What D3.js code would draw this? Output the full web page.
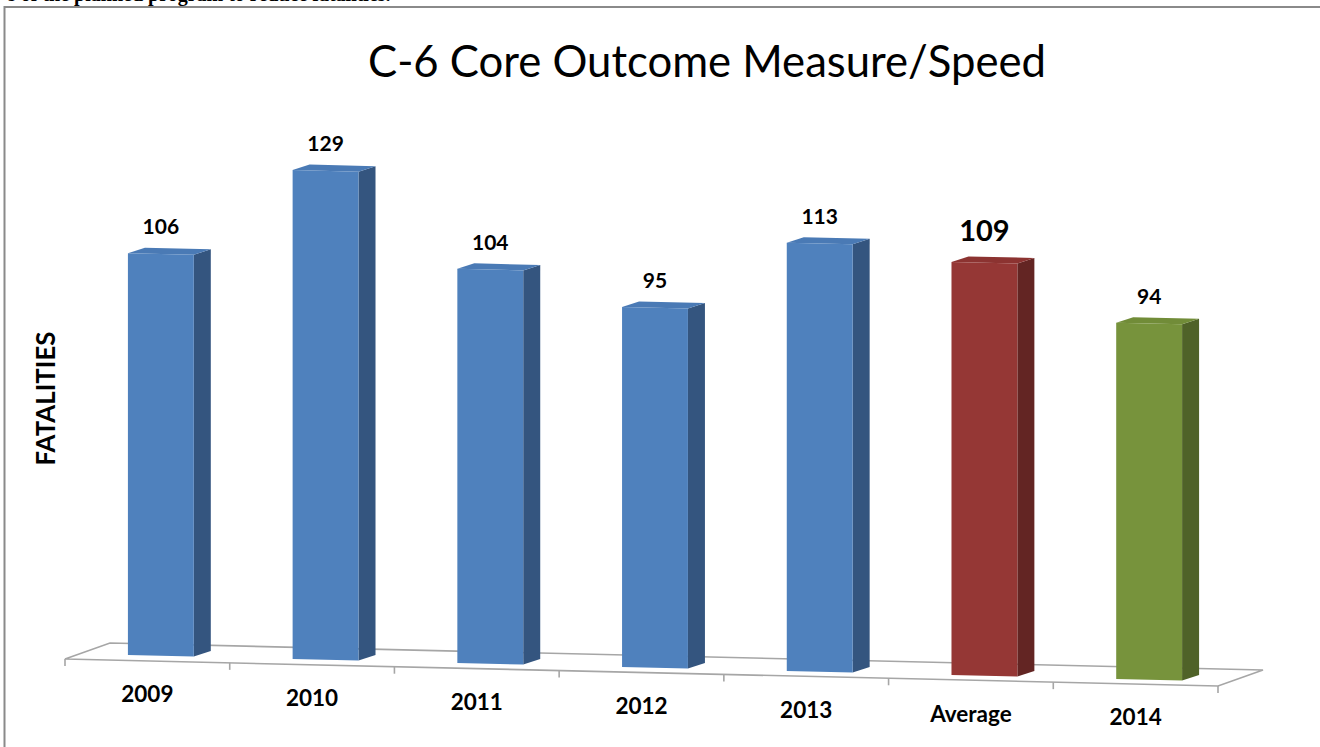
<!DOCTYPE html>
<html>
<head>
<meta charset="utf-8">
<script src="https://cdn.jsdelivr.net/npm/d3@7"></script>
<style>
  html, body { margin: 0; padding: 0; background: #ffffff; }
  svg { display: block; }
</style>
</head>
<body>
<svg id="chart" width="1320" height="747"></svg>
<script>
// ---- data ----
const categories = ["2009", "2010", "2011", "2012", "2013", "Average", "2014"];
const values = [106, 129, 104, 95, 113, 109, 94];
const kinds = ["year", "year", "year", "year", "year", "average", "target"];
const chartTitle = "C-6 Core Outcome Measure/Speed";
const axisTitle = "FATALITIES";
const headerText = "s of the planned program to reduce fatalities.";

// ---- style ----
const palette = {
  year:    { front: "#4f81bd", side: "#34557f", top: "#4a7ab5" },
  average: { front: "#953735", side: "#632523", top: "#8c3331" },
  target:  { front: "#77933c", side: "#4f6228", top: "#718c38" }
};

const svg = d3.select("#chart");

// header fragment (cut off at top, as in the source page) and frame
svg.append("text")
  .attr("x", 8).attr("y", 1)
  .attr("font-family", "Liberation Serif, serif")
  .attr("font-weight", "bold").attr("font-size", 20)
  .attr("fill", "#000")
  .text(headerText);

svg.append("path")
  .attr("d", "M4.5,747 L4.5,7 L1320,7")
  .attr("fill", "none").attr("stroke", "#8a8a8a").attr("stroke-width", 2);

// ---- geometry ----
const floorFL = [65, 659], floorFR = [1218, 686];
const depth = [45, -16];
const x = d3.scaleBand().domain(categories)
  .range([floorFL[0], floorFR[0]])
  .paddingInner(0.6).paddingOuter(0.3);
const y = d3.scaleLinear().domain([0, 129]).range([0, 129 * 3.79]);

const barShift = 13.5;         // bars sit in the middle of the floor depth
const barDepth = [17, -5.5];   // side face offset
const baseSlope = 0.0243;
const base = px => 655 + baseSlope * (px - 128);
const frontY = px => floorFL[1] + (floorFR[1] - floorFL[1]) / (floorFR[0] - floorFL[0]) * (px - floorFL[0]);

// ---- floor ----
const floorG = svg.append("g").attr("fill", "none").attr("stroke", "#a6a6a6").attr("stroke-width", 1.6);
const BL = [floorFL[0] + depth[0], floorFL[1] + depth[1]];
const BR = [floorFR[0] + depth[0], floorFR[1] + depth[1]];
floorG.append("path").attr("d",
  `M${floorFL[0]},${floorFL[1]} L${BL[0]},${BL[1]} L${BR[0]},${BR[1]} L${floorFR[0]},${floorFR[1]} Z`);
// ticks on front edge
const step = x.step();
const tickXs = d3.range(categories.length + 1).map(i => floorFL[0] + i * step);
floorG.selectAll("line.tick").data(tickXs).join("line")
  .attr("class", "tick")
  .attr("x1", d => d).attr("x2", d => d)
  .attr("y1", d => frontY(d)).attr("y2", d => frontY(d) + 7);

// ---- bars ----
const bars = svg.append("g");
categories.forEach((c, i) => {
  const col = palette[kinds[i]];
  const xl = x(c) + barShift;
  const xr = xl + x.bandwidth();
  const h = y(values[i]);
  const bl = base(xl), br = base(xr);
  const g = bars.append("g");
  // side face
  g.append("path")
    .attr("d", `M${xr},${br} L${xr + barDepth[0]},${br + barDepth[1]} L${xr + barDepth[0]},${br + barDepth[1] - h} L${xr},${br - h} Z`)
    .attr("fill", col.side);
  // top face
  g.append("path")
    .attr("d", `M${xl},${bl - h} L${xr},${br - h} L${xr + barDepth[0]},${br + barDepth[1] - h} L${xl + barDepth[0]},${bl + barDepth[1] - h} Z`)
    .attr("fill", col.top);
  // front face
  g.append("path")
    .attr("d", `M${xl},${bl} L${xr},${br} L${xr},${br - h} L${xl},${bl - h} Z`)
    .attr("fill", col.front);
  // value label
  const cx = (xl + xr) / 2;
  const big = kinds[i] === "average";
  g.append("text")
    .attr("x", cx)
    .attr("y", base(cx) - h - (big ? 22 : 20))
    .attr("text-anchor", "middle")
    .attr("font-family", "Lato, sans-serif")
    .attr("font-weight", "bold")
    .attr("font-size", big ? 29 : 21)
    .attr("fill", "#000")
    .text(values[i]);
});

// ---- category labels ----
svg.append("g").selectAll("text").data(categories).join("text")
  .attr("x", d => x(d) + x.bandwidth() / 2)
  .attr("y", d => 702 + 0.0237 * (x(d) + x.bandwidth() / 2 - 147.5))
  .attr("text-anchor", "middle")
  .attr("font-family", "Lato, sans-serif")
  .attr("font-weight", "bold")
  .attr("font-size", 22.5)
  .attr("fill", "#000")
  .text(d => d);

// ---- titles ----
svg.append("text")
  .attr("x", 707).attr("y", 77)
  .attr("text-anchor", "middle")
  .attr("font-family", "Lato, sans-serif")
  .attr("font-size", 44)
  .attr("fill", "#000")
  .attr("textLength", 678).attr("lengthAdjust", "spacingAndGlyphs")
  .text(chartTitle);

svg.append("text")
  .attr("transform", "translate(55,398.5) rotate(-90)")
  .attr("text-anchor", "middle")
  .attr("font-family", "Lato, sans-serif")
  .attr("font-weight", "bold")
  .attr("font-size", 26)
  .attr("fill", "#000")
  .attr("textLength", 134).attr("lengthAdjust", "spacingAndGlyphs")
  .text(axisTitle);
</script>
</body>
</html>
